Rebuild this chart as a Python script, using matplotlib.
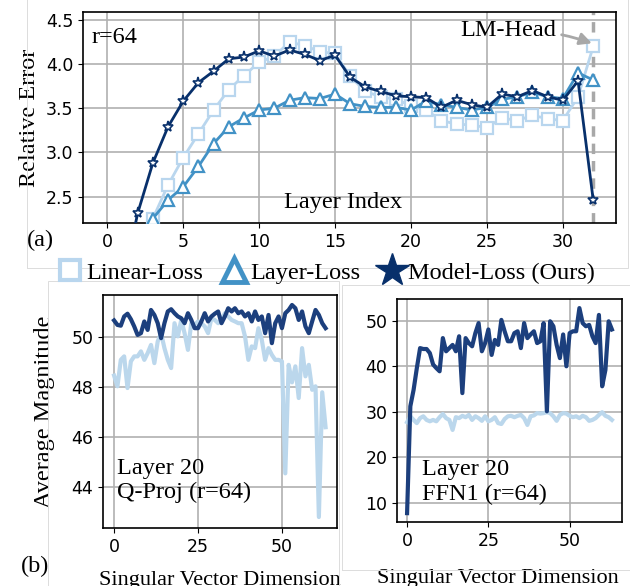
import numpy as np
import matplotlib.pyplot as plt
from matplotlib.lines import Line2D
from matplotlib.patches import Rectangle

# Panel (a): relative error per layer
capas = list(range(1, 33))
linear_loss = [1.6, 1.9, 2.25, 2.63, 2.94, 3.21, 3.48, 3.71, 3.87, 4.02, 4.09, 4.25,
               4.21, 4.14, 4.12, 3.86, 3.69, 3.63, 3.60, 3.53, 3.48, 3.36, 3.32, 3.31,
               3.28, 3.39, 3.36, 3.42, 3.38, 3.36, 3.63, 4.20]
layer_loss = [1.7, 1.95, 2.25, 2.46, 2.61, 2.84, 3.10, 3.29, 3.39, 3.48, 3.50, 3.59,
              3.62, 3.61, 3.66, 3.55, 3.52, 3.51, 3.51, 3.48, 3.58, 3.54, 3.51, 3.48,
              3.51, 3.60, 3.63, 3.68, 3.63, 3.61, 3.90, 3.82]
model_loss = [1.5, 2.31, 2.88, 3.29, 3.58, 3.79, 3.92, 4.06, 4.08, 4.15, 4.09, 4.16,
              4.11, 4.04, 4.10, 3.85, 3.74, 3.69, 3.64, 3.63, 3.62, 3.51, 3.59, 3.54,
              3.51, 3.66, 3.63, 3.70, 3.63, 3.59, 3.81, 2.46]

# Panel (b): average magnitude per singular vector dimension
dims = list(range(64))
qproj_linear = [48.47, 48.04, 49.1, 49.24, 47.97, 49.04, 49.24, 49.24, 49.44, 49.1,
                49.37, 49.7, 48.97, 49.84, 50.17, 49.57, 49.1, 48.77, 50.57, 50.04,
                50.7, 50.17, 49.5, 50.57, 50.5, 50.64, 50.57, 50.44, 50.17, 50.77,
                50.7, 50.57, 50.7, 50.97, 50.84, 50.7, 50.64, 50.57, 50.57, 50.04,
                49.1, 49.64, 49.57, 50.37, 49.9, 49.1, 49.57, 49.3, 49.1, 49.1,
                49.04, 44.55, 48.9, 48.2, 48.84, 47.57, 49.57, 48.44, 48.9, 47.9,
                48.04, 42.8, 47.8, 46.4]
qproj_model = [50.68, 50.5, 50.47, 50.84, 50.95, 50.73, 50.44, 50.1, 50.17, 50.64,
               50.3, 51.1, 50.9, 50.57, 49.97, 50.57, 51.04, 51.13, 50.97, 50.84,
               50.77, 50.57, 50.97, 50.7, 50.37, 50.37, 50.64, 50.97, 50.64, 50.84,
               50.95, 51.04, 50.57, 50.84, 51.17, 51.04, 51.17, 50.97, 51.04, 50.84,
               50.97, 50.64, 51.04, 50.7, 50.84, 50.17, 50.9, 49.77, 50.57, 50.84,
               50.37, 50.97, 51.1, 51.3, 51.17, 50.7, 51.04, 50.44, 50.17, 50.64,
               51.1, 50.9, 50.57, 50.37]
ffn1_linear = [27.7, 29.0, 28.2, 27.5, 28.6, 29.0, 28.2, 27.9, 28.2, 27.9,
               28.8, 29.5, 28.6, 28.2, 26.0, 28.8, 28.6, 29.1, 28.8, 29.3,
               28.2, 29.0, 28.6, 28.0, 29.0, 27.9, 28.2, 28.8, 27.5, 27.3,
               28.4, 29.0, 29.1, 28.8, 29.1, 29.3, 28.6, 27.1, 29.0, 29.2,
               29.7, 29.6, 29.7, 29.9, 29.7, 29.0, 28.0, 29.3, 29.7, 29.6,
               29.1, 28.8, 29.0, 28.6, 29.1, 28.8, 28.0, 28.2, 28.6, 29.3,
               29.9, 29.1, 28.8, 28.2]
ffn1_model = [7.7, 31.2, 34.8, 39.6, 44.0, 43.8, 43.8, 42.9, 40.4, 39.6,
              38.9, 46.2, 43.3, 44.0, 44.7, 43.3, 46.6, 34.1, 46.2, 45.1,
              44.4, 47.3, 49.5, 43.3, 45.1, 48.1, 42.5, 45.8, 44.7, 50.2,
              47.7, 45.5, 45.5, 47.3, 47.7, 44.0, 49.5, 46.2, 47.0, 47.7,
              45.1, 45.5, 49.5, 30.1, 49.9, 48.8, 44.7, 41.8, 47.0, 40.0,
              47.3, 47.7, 47.7, 52.8, 49.5, 48.8, 49.1, 46.6, 45.1, 51.3,
              35.6, 39.2, 49.9, 48.1]

c_light = "#b9d6ee"
c_mid = "#4292c6"
c_dark = "#08306b"
c_dark_b = "#1c3f7d"
c_light_b = "#bbd7ec"
serif = "Liberation Serif"
fs = 17.5

fig = plt.figure(figsize=(6.3, 5.86), dpi=100)

# cajas grises de las subfiguras
for (x0, y0, x1, y1) in [(27, -5, 628, 268), (48, 281, 339, 600), (342, 285, 640, 570)]:
    fig.patches.append(Rectangle((x0 / 630, 1 - y1 / 586), (x1 - x0) / 630, (y1 - y0) / 586,
                                 transform=fig.transFigure, fill=False,
                                 edgecolor="#dcdcdc", lw=0.7))

ax = fig.add_axes([83 / 630, 1 - 223 / 586, 533 / 630, 211 / 586])
ax.grid(True, color="#b0b0b0", lw=1.2)
ax.set_axisbelow(True)
ax.axvline(32, color="#a8a8a8", lw=2.5, ls=(0, (3, 2)), zorder=1)
ax.plot(capas, linear_loss, color=c_light, lw=2, marker="s", ms=8, mfc="white", mew=1.6, zorder=3)
ax.plot(capas, layer_loss, color=c_mid, lw=2, marker="^", ms=8, mfc="white", mew=1.6, zorder=4)
ax.plot(capas, model_loss, color=c_dark, lw=2, marker="*", ms=8, mfc="white", mew=1.2, zorder=5)
ax.set_xlim(-1.6, 33.5)
ax.set_ylim(2.2, 4.59)
ax.set_xticks([0, 5, 10, 15, 20, 25, 30])
ax.set_yticks([2.5, 3.0, 3.5, 4.0, 4.5])
ax.tick_params(labelsize=12.5)
ax.set_ylabel("Relative Error", family=serif, fontsize=fs, labelpad=4)
ax.text(0.016, 0.93, "r=64", transform=ax.transAxes, family=serif, fontsize=fs, va="top")
ax.text(15.5, 2.43, "Layer Index", family=serif, fontsize=fs, ha="center", va="center")
ax.annotate("LM-Head", xy=(32, 4.23), xytext=(26.4, 4.38), family=serif, fontsize=fs,
            ha="center", va="center",
            arrowprops=dict(arrowstyle="-|>", color="#a8a8a8", lw=2, mutation_scale=18,
                            shrinkA=2, shrinkB=1, connectionstyle="arc3,rad=-0.1"))
for s in ax.spines.values():
    s.set_linewidth(1.2)

handles = [
    Line2D([], [], ls="none", marker="s", ms=15, mfc="white", mec=c_light, mew=3),
    Line2D([], [], ls="none", marker="^", ms=17, mfc="white", mec=c_mid, mew=3.5),
    Line2D([], [], ls="none", marker="*", ms=25, mfc=c_dark, mec=c_dark, mew=1),
]
fig.legend(handles, ["Linear-Loss", "Layer-Loss", "Model-Loss (Ours)"], loc="center",
           bbox_to_anchor=(325 / 630, 1 - 273 / 586), ncol=3, frameon=False,
           prop={"family": serif, "size": fs}, handletextpad=0.05, columnspacing=0.7,
           handlelength=1.2, borderaxespad=0)

fig.text(40 / 630, 1 - 240 / 586, "(a)", family=serif, fontsize=fs, ha="center", va="center")
fig.text(35 / 630, 1 - 566 / 586, "(b)", family=serif, fontsize=fs, ha="center", va="center")

# panel izquierdo
ax1 = fig.add_axes([103 / 630, 1 - 528 / 586, 234 / 630, 233 / 586])
ax1.grid(True, color="#b0b0b0", lw=1.2)
ax1.set_axisbelow(True)
ax1.plot(dims, qproj_linear, color=c_light_b, lw=3)
ax1.plot(dims, qproj_model, color=c_dark_b, lw=3)
ax1.set_xlim(-3.3, 66.4)
ax1.set_ylim(42.36, 51.7)
ax1.set_xticks([0, 25, 50])
ax1.set_yticks([44, 46, 48, 50])
ax1.tick_params(labelsize=12.5)
ax1.set_ylabel("Average Magnitude", family=serif, fontsize=fs, labelpad=12)
ax1.set_xlabel("Singular Vector Dimension", family=serif, fontsize=16, labelpad=11)
ax1.text(0.06, 0.204, "Layer 20\nQ-Proj (r=64)", transform=ax1.transAxes, family=serif,
         fontsize=fs, va="center", linespacing=1.2)

# panel derecho
ax2 = fig.add_axes([397 / 630, 1 - 522 / 586, 225 / 630, 223 / 586])
ax2.grid(True, color="#b0b0b0", lw=1.2)
ax2.set_axisbelow(True)
ax2.plot(dims, ffn1_linear, color=c_light_b, lw=3)
ax2.plot(dims, ffn1_model, color=c_dark_b, lw=3)
ax2.set_xlim(-3.1, 66.1)
ax2.set_ylim(5.75, 54.8)
ax2.set_xticks([0, 25, 50])
ax2.set_yticks([10, 20, 30, 40, 50])
ax2.tick_params(labelsize=12.5)
ax2.set_xlabel("Singular Vector Dimension", family=serif, fontsize=16)
ax2.xaxis.set_label_coords((498 - 397) / 225, -(578 - 522) / 223)
ax2.xaxis.label.set_va("center")
ax2.text(0.11, 0.179, "Layer 20\nFFN1 (r=64)", transform=ax2.transAxes, family=serif,
         fontsize=fs, va="center", linespacing=1.2)

for a in (ax1, ax2):
    for s in a.spines.values():
        s.set_linewidth(1.2)

plt.savefig("out.png", dpi=100)
